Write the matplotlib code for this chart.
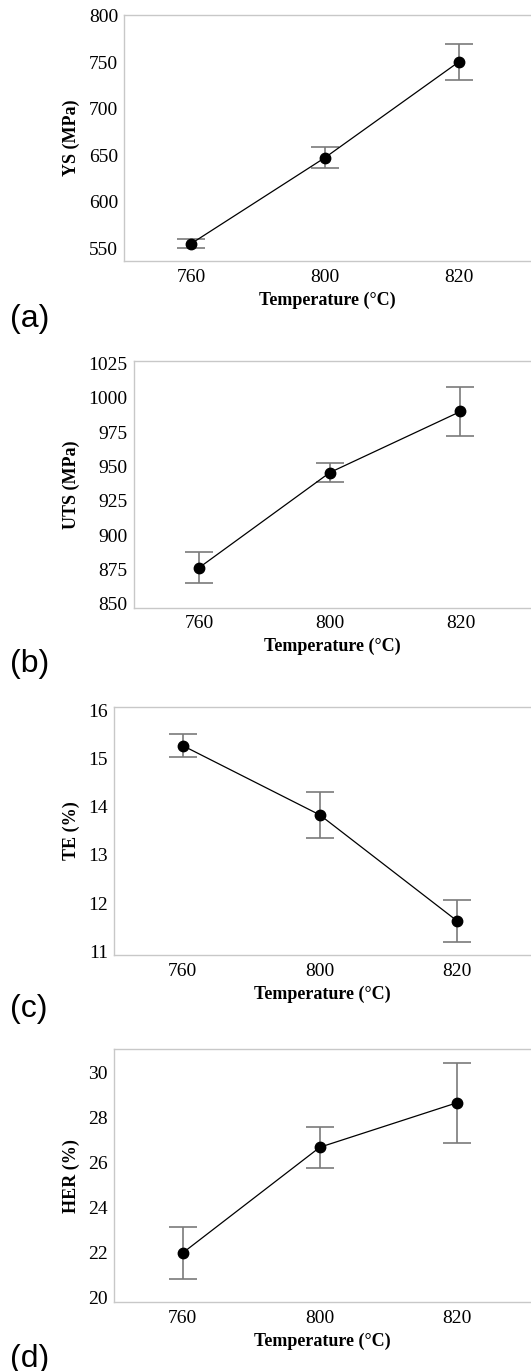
import matplotlib
matplotlib.use("Agg")
import matplotlib.pyplot as plt

########################################################################
# Data

temps = ["760", "800", "820"]

ys = [555.0, 647.5, 750.5]
ys_err = [5.0, 11.5, 19.5]

uts = [876.5, 945.6, 990.0]
uts_err = [11.5, 7.0, 18.0]

te = [15.27, 13.83, 11.63]
te_err = [0.24, 0.48, 0.44]

her = [22.0, 26.68, 28.65]
her_err = [1.15, 0.9, 1.77]

ylabels = ["YS (MPa)", "UTS (MPa)", "TE (%)", "HER (%)"]
ticks = [
    [550, 600, 650, 700, 750, 800],
    [850, 875, 900, 925, 950, 975, 1000, 1025],
    [11, 12, 13, 14, 15, 16],
    [20, 22, 24, 26, 28, 30],
]
ylims = [(536.3, 801.0), (847.3, 1026.7), (10.92, 16.08), (19.82, 31.02)]
tags = ["(a)", "(b)", "(c)", "(d)"]

########################################################################
# Layout in pixels: (left, top, bottom) of each axes, and label baseline

W, H = 531, 1371
boxes = [(124.3, 15, 261), (134, 361, 607.7), (114.3, 706.7, 955), (114.3, 1049.3, 1302)]
tag_y = [326.7, 671.7, 1016.7, 1366.7]

fig = plt.figure(figsize=(W / 100, H / 100), dpi=100)

serif = ["Liberation Serif", "DejaVu Serif"]
spine_col = "#c8c8c8"

series = [(ys, ys_err), (uts, uts_err), (te, te_err), (her, her_err)]

for i, (vals, errs) in enumerate(series):
    left, top, bottom = boxes[i]
    ax = fig.add_axes([left / W, 1 - bottom / H, 1 - left / W, (bottom - top) / H])
    x = list(range(len(temps)))
    ax.errorbar(x, vals, yerr=errs, fmt="none", ecolor="#7a7a7a",
                elinewidth=1.2, capsize=10, capthick=1.2, zorder=2)
    ax.plot(x, vals, color="black", lw=0.9, marker="o", markersize=7.5, zorder=3)

    ax.set_xlim(-0.5, 2.54)
    ax.set_ylim(*ylims[i])
    ax.set_xticks(x)
    ax.set_xticklabels(temps)
    ax.set_yticks(ticks[i])
    ax.tick_params(length=0, labelsize=14)
    ax.tick_params(axis="y", pad=4.5)
    ax.tick_params(axis="x", pad=5.5)
    for lab in ax.get_xticklabels() + ax.get_yticklabels():
        lab.set_fontfamily(serif)

    ax.spines["right"].set_visible(False)
    for s in ("left", "bottom", "top"):
        ax.spines[s].set_color(spine_col)
        ax.spines[s].set_linewidth(1.0)

    ax.set_xlabel("Temperature (°C)", family=serif, fontweight="bold",
                  fontsize=13, labelpad=4)
    ax.set_ylabel(ylabels[i], family=serif, fontweight="bold", fontsize=13)
    ax.yaxis.set_label_coords((80 - left) / (W - left), 0.5)

    fig.text(10 / W, 1 - tag_y[i] / H, tags[i], fontsize=23,
             family=["Liberation Sans", "DejaVu Sans"], va="baseline", ha="left")

fig.savefig("out.png", dpi=100)
